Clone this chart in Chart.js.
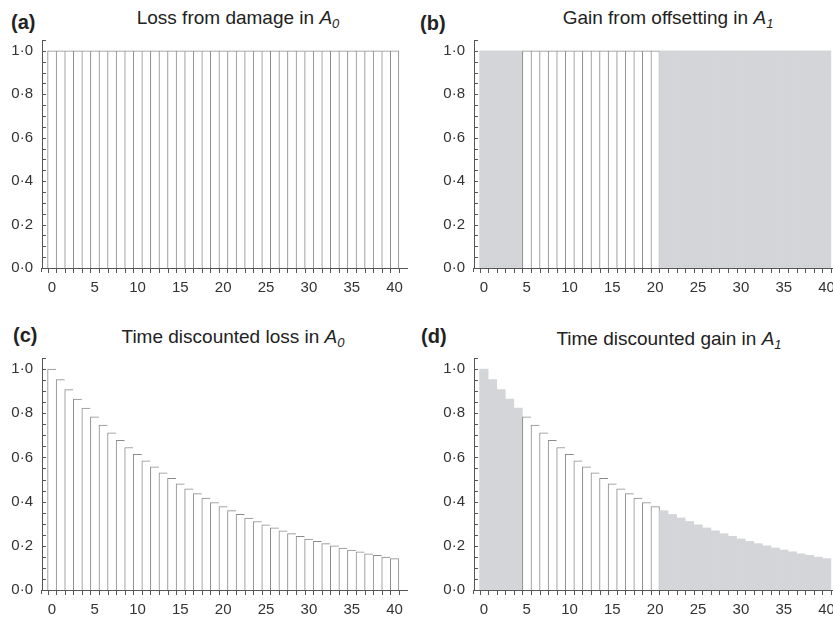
<!DOCTYPE html>
<html>
<head>
<meta charset="utf-8">
<script src="https://cdn.jsdelivr.net/npm/chart.js@4.4.1/dist/chart.umd.min.js"></script>
<style>
  body { margin: 0; width: 833px; height: 620px; overflow: hidden; position: relative; background: #fff;
         font-family: "Liberation Sans", Arial, sans-serif; color: #222; }
  canvas { position: absolute; }
  .tag { position: absolute; font-size: 20px; font-weight: bold; line-height: 20px; white-space: nowrap; }
  .title { position: absolute; width: 320px; text-align: center; font-size: 19px; line-height: 19px; white-space: nowrap; }
  .title i sub { font-size: 13px; vertical-align: -4px; line-height: 0; }
</style>
</head>
<body>
<div class="tag" style="left:11px; top:12px">(a)</div>
<div class="title" style="left:78px; top:8px">Loss from damage in <i>A<sub>0</sub></i></div>
<canvas id="panelA" width="420" height="262" style="left:0; top:30px"></canvas>

<div class="tag" style="left:420px; top:13px">(b)</div>
<div class="title" style="left:508px; top:8px">Gain from offsetting in <i>A<sub>1</sub></i></div>
<canvas id="panelB" width="420" height="262" style="left:432px; top:30px"></canvas>

<div class="tag" style="left:13px; top:325px">(c)</div>
<div class="title" style="left:73px; top:327px">Time discounted loss in <i>A<sub>0</sub></i></div>
<canvas id="panelC" width="420" height="266" style="left:0; top:348px"></canvas>

<div class="tag" style="left:421px; top:326px">(d)</div>
<div class="title" style="left:509px; top:329px">Time discounted gain in <i>A<sub>1</sub></i></div>
<canvas id="panelD" width="420" height="266" style="left:432px; top:348px"></canvas>

<script>
// data
const years = [0, 1, 2, 3, 4, 5, 6, 7, 8, 9, 10, 11, 12, 13, 14, 15, 16, 17, 18, 19, 20,
  21, 22, 23, 24, 25, 26, 27, 28, 29, 30, 31, 32, 33, 34, 35, 36, 37, 38, 39, 40];

const damageLoss = [1.0, 1.0, 1.0, 1.0, 1.0, 1.0, 1.0, 1.0, 1.0, 1.0, 1.0, 1.0, 1.0, 1.0,
  1.0, 1.0, 1.0, 1.0, 1.0, 1.0, 1.0, 1.0, 1.0, 1.0, 1.0, 1.0, 1.0, 1.0, 1.0, 1.0, 1.0,
  1.0, 1.0, 1.0, 1.0, 1.0, 1.0, 1.0, 1.0, 1.0, 1.0];

const offsetGain = [1.0, 1.0, 1.0, 1.0, 1.0, 1.0, 1.0, 1.0, 1.0, 1.0, 1.0, 1.0, 1.0, 1.0,
  1.0, 1.0, 1.0, 1.0, 1.0, 1.0, 1.0, 1.0, 1.0, 1.0, 1.0, 1.0, 1.0, 1.0, 1.0, 1.0, 1.0,
  1.0, 1.0, 1.0, 1.0, 1.0, 1.0, 1.0, 1.0, 1.0, 1.0];

const discountedLoss = [1.000, 0.952, 0.907, 0.864, 0.823, 0.784, 0.746, 0.711, 0.677, 0.645,
  0.614, 0.585, 0.557, 0.530, 0.505, 0.481, 0.458, 0.436, 0.416, 0.396, 0.377,
  0.359, 0.342, 0.326, 0.310, 0.295, 0.281, 0.268, 0.255, 0.243, 0.231,
  0.220, 0.210, 0.200, 0.190, 0.181, 0.173, 0.164, 0.157, 0.149, 0.142];

const discountedGain = [1.000, 0.952, 0.907, 0.864, 0.823, 0.784, 0.746, 0.711, 0.677, 0.645,
  0.614, 0.585, 0.557, 0.530, 0.505, 0.481, 0.458, 0.436, 0.416, 0.396, 0.377,
  0.359, 0.342, 0.326, 0.310, 0.295, 0.281, 0.268, 0.255, 0.243, 0.231,
  0.220, 0.210, 0.200, 0.190, 0.181, 0.173, 0.164, 0.157, 0.149, 0.142];

// years whose offset gain is counted (white bars in b and d)
const offsetWindow = [5, 6, 7, 8, 9, 10, 11, 12, 13, 14, 15, 16, 17, 18, 19, 20];

const xTickLabels = [0, 5, 10, 15, 20, 25, 30, 35, 40];
const yTickLabels = [0, 0.2, 0.4, 0.6, 0.8, 1.0];

const greyFill = '#d4d5d8';
const barEdge = '#8a8a8a';
const axisColor = '#555555';
const tickFont = { family: '"Liberation Sans", Arial, sans-serif', size: 15 };

// small tick marks: y every 0.05 pointing in, x at the bar edges pointing down
const tickMarks = {
  id: 'tickMarks',
  afterDraw(chart) {
    const ctx = chart.ctx;
    const xs = chart.scales.x;
    const ys = chart.scales.y;
    ctx.save();
    ctx.strokeStyle = axisColor;
    ctx.lineWidth = 1;
    ctx.beginPath();
    const yLeft = Math.round(ys.right);
    for (let v = 0; v <= ys.max + 1e-9; v += 0.05) {
      const py = Math.round(ys.getPixelForValue(v)) + 0.5;
      ctx.moveTo(yLeft, py);
      ctx.lineTo(yLeft + 4, py);
    }
    const xTop = Math.round(xs.top);
    for (let i = 0; i <= years.length; i++) {
      const px = Math.round(xs.getPixelForValue(i - 0.5)) + 0.5;
      ctx.moveTo(px, xTop);
      ctx.lineTo(px, xTop + 5);
    }
    // y axis runs a little past the x axis
    ctx.moveTo(yLeft - 0.5, xTop);
    ctx.lineTo(yLeft - 0.5, xTop + 4);
    ctx.stroke();
    ctx.restore();
  }
};

function makePanel(id, values, whiteYears) {
  const isWhite = i => whiteYears.includes(years[i]);

  new Chart(document.getElementById(id), {
    type: 'bar',
    data: {
      datasets: [{
        data: years.map((t, i) => ({ x: t, y: values[i] })),
        backgroundColor: c => isWhite(c.dataIndex) ? '#ffffff' : greyFill,
        borderColor: barEdge,
        borderWidth: c => {
          const i = c.dataIndex;
          if (!isWhite(i)) return 0;
          return { left: 1, top: 1, right: isWhite(i + 1) ? 0 : 1, bottom: 0 };
        },
        barPercentage: 1,
        categoryPercentage: 1
      }]
    },
    options: {
      responsive: false,
      animation: false,
      events: [],
      layout: { padding: { left: 0, right: 13, top: 10, bottom: 0 } },
      plugins: { legend: { display: false }, tooltip: { enabled: false } },
      scales: {
        x: {
          type: 'linear',
          offset: false,
          min: -1.15,
          max: 41.45,
          afterBuildTicks: s => { s.ticks = xTickLabels.map(v => ({ value: v })); },
          afterFit: s => { s.height = 24; },
          grid: { display: false, offset: false, drawTicks: true, tickLength: 11 },
          border: { display: true, color: axisColor, width: 1 },
          ticks: { padding: 0, color: '#333', font: tickFont, maxRotation: 0, autoSkip: false }
        },
        y: {
          min: 0,
          max: 1.05,
          afterBuildTicks: s => { s.ticks = yTickLabels.map(v => ({ value: v })); },
          afterFit: s => { s.width = 42; },
          grid: { display: false, drawTicks: true, tickLength: 9 },
          border: { display: true, color: axisColor, width: 1 },
          ticks: {
            padding: 0,
            color: '#333',
            font: tickFont,
            callback: v => v.toFixed(1).replace('.', '·')
          }
        }
      }
    },
    plugins: [tickMarks]
  });
}

makePanel('panelA', damageLoss, years);
makePanel('panelB', offsetGain, offsetWindow);
makePanel('panelC', discountedLoss, years);
makePanel('panelD', discountedGain, offsetWindow);
</script>
</body>
</html>
